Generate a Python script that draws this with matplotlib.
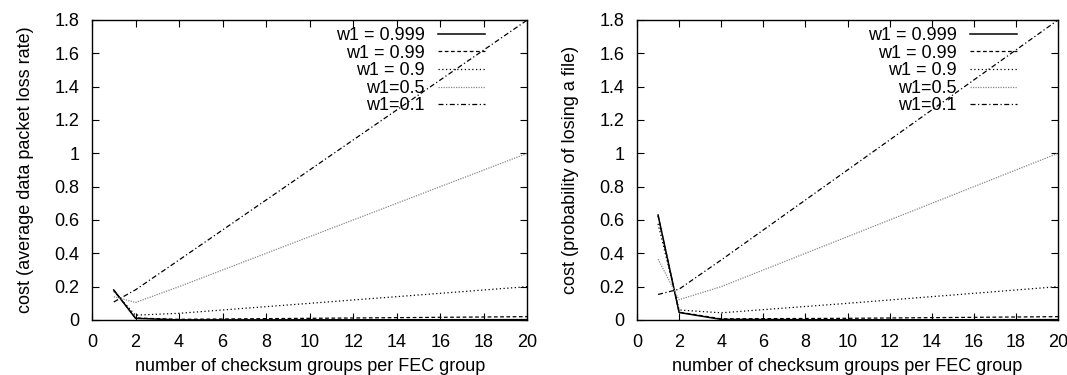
import matplotlib
matplotlib.use("Agg")
import matplotlib.pyplot as plt

plt.rcParams['font.family'] = ['Liberation Sans', 'DejaVu Sans']

# number of checksum groups per FEC group
x = [1, 2, 4, 10, 20]

labels = ['w1 = 0.999', 'w1 = 0.99', 'w1 = 0.9', 'w1=0.5', 'w1=0.1']

# left: cost (average data packet loss rate)
left_999 = [0.180, 0.010, 0.0004, 0.001, 0.002]
left_99 = [0.179, 0.012, 0.004, 0.010, 0.020]
left_9 = [0.172, 0.029, 0.040, 0.100, 0.200]
left_5 = [0.140, 0.105, 0.200, 0.500, 1.000]
left_1 = [0.108, 0.181, 0.360, 0.900, 1.800]

# right: cost (probability of losing a file)
right_999 = [0.630, 0.045, 0.0034, 0.001, 0.002]
right_99 = [0.625, 0.047, 0.007, 0.010, 0.020]
right_9 = [0.577, 0.060, 0.043, 0.100, 0.200]
right_5 = [0.365, 0.122, 0.200, 0.500, 1.000]
right_1 = [0.153, 0.185, 0.360, 0.900, 1.800]

styles = [
    dict(color='black', linestyle='-', linewidth=1.1),
    dict(color='black', linestyle=(0, (3, 2)), linewidth=0.9),
    dict(color='black', linestyle=(0, (1, 2)), linewidth=0.9),
    dict(color='#888888', linestyle=(0, (1, 1)), linewidth=0.9),
    dict(color='black', linestyle=(0, (4, 2, 1, 2)), linewidth=0.9),
]

fs = 13

fig = plt.figure(figsize=(10.67, 3.75), dpi=100)
ax1 = fig.add_axes([0.0862, 0.1467, 0.408, 0.800])
ax2 = fig.add_axes([0.597, 0.1467, 0.3946, 0.800])


def draw(ax, series, ylabel):
    for ys, lab, st in zip(series, labels, styles):
        ax.plot(x, ys, label=lab, **st)
    ax.set_xlim(0, 20)
    ax.set_ylim(0, 1.8)
    ax.set_xticks(range(0, 21, 2))
    ax.set_yticks([0, 0.2, 0.4, 0.6, 0.8, 1, 1.2, 1.4, 1.6, 1.8])
    ax.set_yticklabels(['0', '0.2', '0.4', '0.6', '0.8', '1', '1.2', '1.4', '1.6', '1.8'])
    ax.tick_params(direction='in', top=True, right=True, labelsize=fs, length=5)
    ax.tick_params(axis='x', pad=10)
    ax.tick_params(axis='y', pad=9)
    for s in ax.spines.values():
        s.set_linewidth(1.0)
    ax.set_xlabel('number of checksum groups per FEC group', fontsize=fs, labelpad=5)
    ax.set_ylabel(ylabel, fontsize=fs, labelpad=15)
    ax.legend(loc='upper right', frameon=False, markerfirst=False, fontsize=fs,
              handlelength=2.6, handletextpad=0.75, labelspacing=0.03,
              borderaxespad=0.0, bbox_to_anchor=(0.92, 1.0))


draw(ax1, [left_999, left_99, left_9, left_5, left_1], 'cost (average data packet loss rate)')
draw(ax2, [right_999, right_99, right_9, right_5, right_1], 'cost (probability of losing a file)')

fig.savefig('out.png', dpi=100)
